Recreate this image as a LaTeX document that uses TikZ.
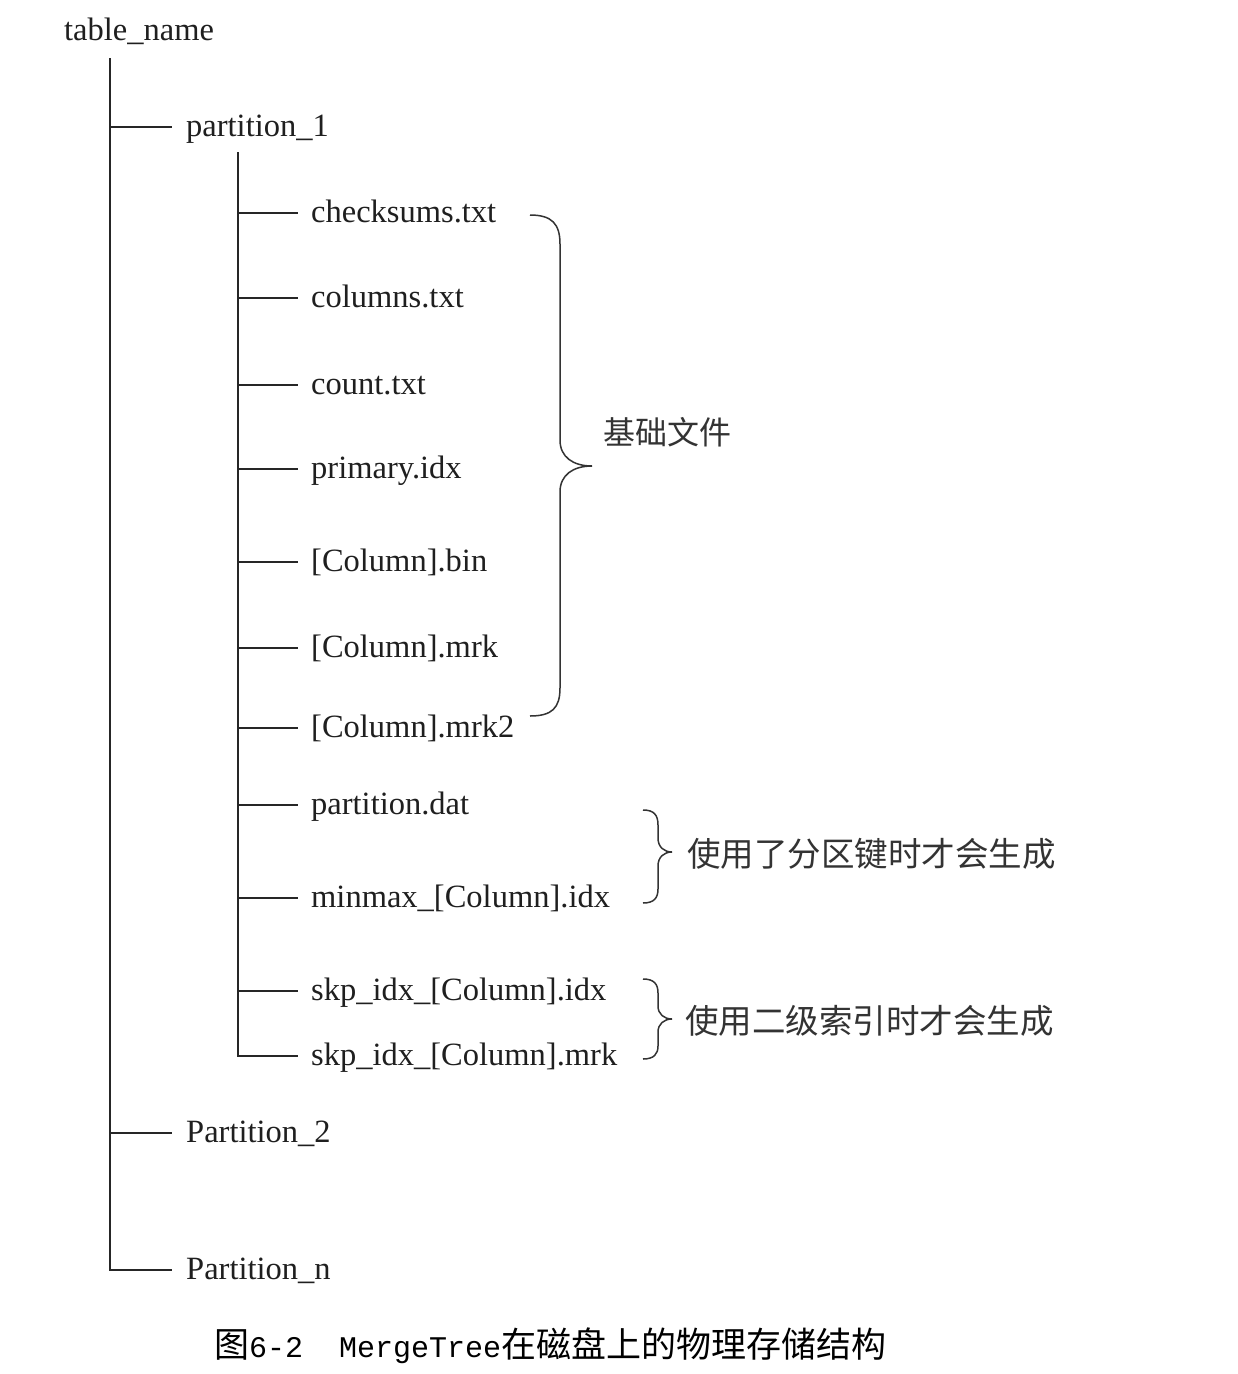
\documentclass[tikz,border=0pt]{standalone}
\usepackage{fontspec}
\setmainfont{Liberation Serif}
\newfontfamily\cjk{Noto Sans CJK SC}
\newfontfamily\capmono{Liberation Mono}
\begin{document}
\begin{tikzpicture}[x=1pt,y=-1pt,
  lbl/.style={anchor=west,inner sep=0pt,text height=24pt,text depth=6pt,
    font=\fontsize{32.5}{38}\selectfont,text=black!88},
  note/.style={anchor=west,inner sep=0pt,text=black!80},
  tree/.style={line width=1.5pt,draw=black!85},
  brace/.style={line width=1.5pt,draw=black!80}]
\useasboundingbox[fill=white] (0,0) rectangle (1238,1374);
% nodes
\node[lbl] (root) at (64,31) {table\_name};
\node[lbl] (p1) at (186,127) {partition\_1};
\node[lbl] (c1) at (311,213) {checksums.txt};
\node[lbl] (c2) at (311,298) {columns.txt};
\node[lbl] (c3) at (311,385) {count.txt};
\node[lbl] (c4) at (311,469) {primary.idx};
\node[lbl] (c5) at (311,562) {[Column].bin};
\node[lbl] (c6) at (311,648) {[Column].mrk};
\node[lbl] (c7) at (311,728) {[Column].mrk2};
\node[lbl] (c8) at (311,805) {partition.dat};
\node[lbl] (c9) at (311,898) {minmax\_[Column].idx};
\node[lbl] (c10) at (311,991) {skp\_idx\_[Column].idx};
\node[lbl] (c11) at (311,1056) {skp\_idx\_[Column].mrk};
\node[lbl] (p2) at (186,1133) {Partition\_2};
\node[lbl] (pn) at (186,1270) {Partition\_n};
% trunks
\coordinate (t1) at (110,58);
\coordinate (t2) at (238,152);
\draw[tree] (t1) |- ([xshift=-14pt]pn.west);
\foreach \n in {p1,p2}
  \draw[tree] (t1 |- \n.west) -- ([xshift=-14pt]\n.west);
\draw[tree] (t2) |- ([xshift=-13pt]c11.west);
\foreach \n in {c1,c2,c3,c4,c5,c6,c7,c8,c9,c10}
  \draw[tree] (t2 |- \n.west) -- ([xshift=-13pt]\n.west);
% braces
\draw[brace] (530,215) .. controls (552,215) and (560,224) .. (560,244)
  -- (560,440) .. controls (560,457) and (573,466) .. (592,466)
  .. controls (573,466) and (560,475) .. (560,492)
  -- (560,688) .. controls (560,708) and (552,716) .. (530,716);
\draw[brace] (643,810) .. controls (654,810) and (658,815) .. (658,825)
  -- (658,838) .. controls (658,847) and (664,852) .. (672,852)
  .. controls (664,852) and (658,857) .. (658,866)
  -- (658,889) .. controls (658,898) and (654,903) .. (643,903);
\draw[brace] (643,979) .. controls (654,979) and (658,984) .. (658,993)
  -- (658,1006) .. controls (658,1014) and (664,1019) .. (672,1019)
  .. controls (664,1019) and (658,1024) .. (658,1032)
  -- (658,1046) .. controls (658,1054) and (654,1059) .. (643,1059);
% brace labels
\node[note,font=\cjk\fontsize{32}{38}\selectfont] (n1) at (603,432) {基础文件};
\node[note,font=\cjk\fontsize{33.5}{40}\selectfont] (n2) at (687,854) {使用了分区键时才会生成};
\node[note,font=\cjk\fontsize{33.5}{40}\selectfont] (n3) at (685,1021) {使用二级索引时才会生成};
% caption
\node[note,text=black] (cap) at (214,1346) {\cjk\fontsize{35}{40}\selectfont 图\capmono\fontsize{30}{40}\selectfont 6-2\ \ MergeTree\cjk\fontsize{35}{40}\selectfont 在磁盘上的物理存储结构};
\end{tikzpicture}
\end{document}
